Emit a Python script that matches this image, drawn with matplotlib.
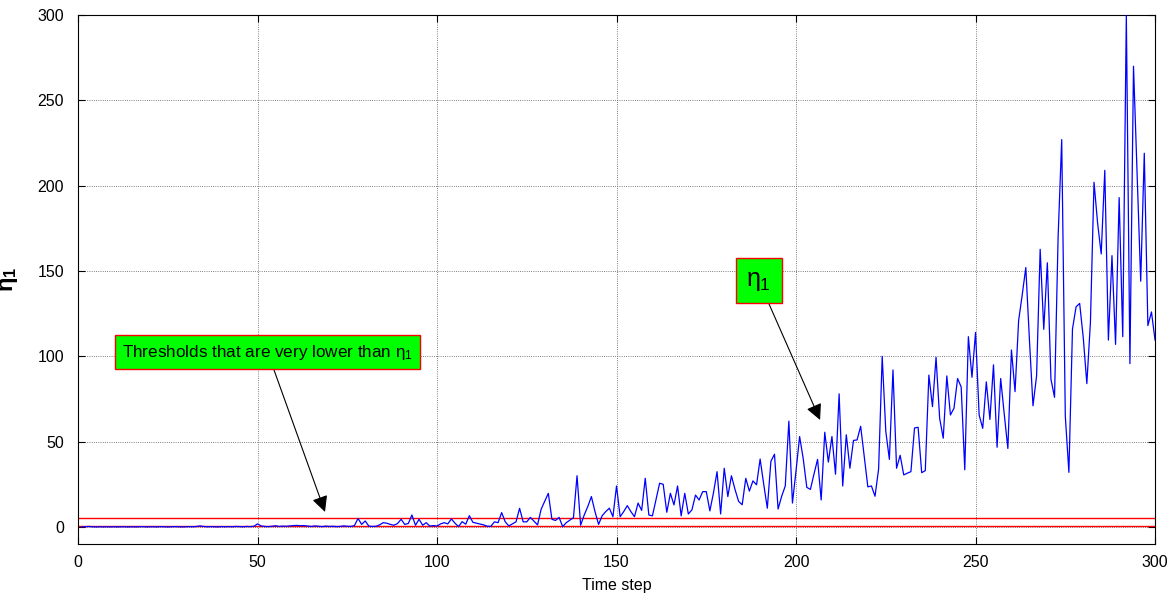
import numpy as np
import matplotlib
matplotlib.use("Agg")
import matplotlib.pyplot as plt

plt.rcParams.update({
    "font.family": "Liberation Sans",
    "font.size": 11,
    "mathtext.fontset": "custom",
    "mathtext.rm": "Liberation Sans",
    "mathtext.it": "Liberation Sans",
    "mathtext.bf": "Liberation Sans:bold",
})

time_step = np.arange(1, 301)

eta_1 = [
    0.0, 0.1, 0.3, 0.1, 0.0, 0.1, 0.0, 0.1, 0.0, 0.1,
    0.0, 0.1, 0.1, 0.0, 0.1, 0.0, 0.1, 0.2, 0.0, 0.1,
    0.1, 0.0, 0.2, 0.1, 0.0, 0.1, 0.2, 0.1, 0.0, 0.1,
    0.2, 0.1, 0.3, 0.6, 0.3, 0.1, 0.2, 0.1, 0.0, 0.2,
    0.1, 0.2, 0.1, 0.3, 0.2, 0.1, 0.3, 0.2, 0.4, 1.8,
    0.6, 0.3, 0.2, 0.4, 0.7, 0.3, 0.5, 0.4, 0.6, 0.8,
    0.9, 0.7, 0.8, 0.5, 0.3, 0.6, 0.4, 0.2, 0.5, 0.3,
    0.4, 0.2, 0.3, 0.6, 0.4, 0.3, 0.8, 5.0, 1.5, 3.5,
    0.5, 0.3, 0.4, 1.2, 2.5, 2.2, 1.5, 1.0, 2.0, 4.5,
    1.5, 2.0, 7.0, 1.0, 4.5, 1.0, 2.5, 0.5, 0.8, 0.5,
    1.8, 2.5, 1.8, 4.7, 2.2, 0.2, 3.1, 1.6, 6.6, 2.7,
    2.2, 1.7, 1.2, 0.4, 0.4, 3.0, 2.5, 8.4, 3.0, 0.6,
    1.8, 3.0, 10.9, 3.0, 3.0, 5.6, 3.4, 1.2, 10.4, 15.0,
    19.7, 4.5, 3.8, 5.6, 0.2, 2.5, 4.0, 5.4, 30.0, 1.0,
    7.0, 12.0, 17.8, 9.0, 1.5, 6.6, 9.0, 11.0, 6.0, 24.0,
    6.0, 9.0, 12.5, 9.0, 6.0, 14.0, 9.7, 28.5, 7.0, 6.5,
    16.0, 25.6, 25.0, 8.6, 19.7, 12.9, 24.0, 6.5, 19.7, 7.6,
    10.0, 18.7, 15.8, 20.7, 20.7, 9.4, 20.0, 32.4, 7.6, 34.4,
    17.8, 30.0, 22.0, 15.0, 13.0, 28.5, 21.0, 27.0, 24.7, 39.8,
    25.0, 11.0, 38.5, 42.6, 10.5, 18.0, 24.0, 62.0, 14.0, 33.0,
    53.0, 40.0, 23.2, 22.0, 31.0, 39.6, 15.8, 55.5, 38.0, 53.0,
    30.9, 78.0, 24.0, 54.0, 34.4, 50.7, 51.0, 59.0, 41.0, 23.5,
    24.0, 18.0, 34.0, 100.0, 56.0, 39.6, 92.0, 34.4, 42.0, 30.5,
    31.5, 32.4, 58.0, 58.4, 31.8, 33.0, 89.0, 70.5, 99.4, 63.7,
    52.0, 88.5, 65.6, 69.6, 87.0, 82.0, 33.5, 111.5, 87.7, 114.0,
    65.6, 57.8, 85.0, 63.0, 95.0, 46.7, 87.0, 66.0, 46.0, 103.7,
    79.3, 121.0, 136.0, 152.0, 110.0, 71.0, 88.5, 162.7, 115.8, 154.8,
    86.6, 76.0, 170.0, 227.0, 65.0, 32.0, 116.0, 129.0, 131.0, 111.0,
    84.0, 120.0, 202.0, 178.0, 160.0, 209.0, 109.5, 159.0, 107.0, 193.0,
    111.5, 300.0, 95.7, 270.0, 207.0, 144.0, 219.0, 118.0, 126.0, 109.5,
]

thresholds = [5.0, 0.6]

fig = plt.figure(figsize=(11.73, 5.99), dpi=100)
ax = fig.add_axes([0.0665, 0.0918, 0.9182, 0.8831])

for th in thresholds:
    ax.axhline(th, color="#ff0000", lw=1.0, zorder=2)
ax.plot(time_step, eta_1, color="#0000ff", lw=0.9, zorder=3)

ax.set_xlim(0, 300)
ax.set_ylim(-10, 300)
ax.set_xticks(np.arange(0, 301, 50))
ax.set_yticks(np.arange(0, 301, 50))
ax.tick_params(direction="in", top=True, right=True, length=5, width=0.8,
               labelsize=11.5)
ax.tick_params(axis="x", pad=8)
ax.tick_params(axis="y", pad=10)
ax.grid(True, linestyle=":", color="#555555", lw=0.6)
for sp in ax.spines.values():
    sp.set_linewidth(0.8)

ax.set_xlabel("Time step", fontsize=11.5, labelpad=6)
ax.set_ylabel(r"$\mathbf{\eta_1}$", fontsize=17)
ax.yaxis.set_label_coords(-0.054, 0.5)

box = dict(boxstyle="square,pad=0.42", fc="#00ff00", ec="#ff0000", lw=1.0)
arrow = dict(arrowstyle="-|>", color="k", lw=0.8, mutation_scale=24,
             shrinkA=0, shrinkB=0)

ax.annotate(r"Thresholds that are very lower than $\eta_1$",
            xy=(68.8, 8.8), xytext=(52.8, 102.5),
            ha="center", va="center", fontsize=12.3,
            bbox=box, arrowprops=arrow, zorder=5)

ax.annotate(r"$\eta_1$", xy=(206.7, 62.7), xytext=(189.6, 144.4),
            ha="center", va="center", fontsize=18,
            bbox=dict(box, pad=0.16), arrowprops=arrow, zorder=5)

fig.savefig("out.png", dpi=100)
